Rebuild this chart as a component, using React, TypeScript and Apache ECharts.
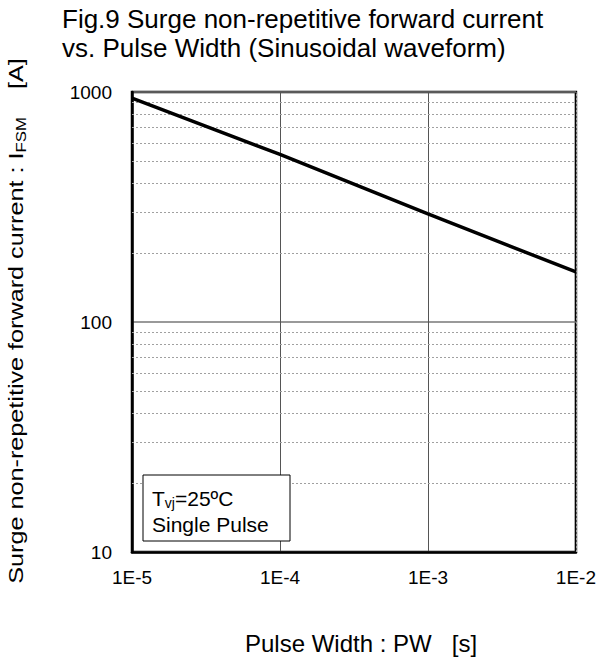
import React, { useEffect, useRef } from 'react';
import * as echarts from 'echarts';

const pulseWidth = [1e-5, 1e-4, 1e-3, 1e-2];
const surgeCurrent = [940, 535, 295, 165];
const xMinorGrid = [
  2e-5, 3e-5, 4e-5, 5e-5, 6e-5, 7e-5, 8e-5, 9e-5,
  2e-4, 3e-4, 4e-4, 5e-4, 6e-4, 7e-4, 8e-4, 9e-4,
  2e-3, 3e-3, 4e-3, 5e-3, 6e-3, 7e-3, 8e-3, 9e-3,
];
const yMinorGrid = [20, 30, 40, 50, 60, 70, 80, 90, 200, 300, 400, 500, 600, 700, 800, 900];
const titleLines = ['Fig.9 Surge non-repetitive forward current', 'vs. Pulse Width (Sinusoidal waveform)'];
const yAxisName = ['Surge non-repetitive forward current : I', 'FSM', '    [A]'];
const xAxisName = 'Pulse Width : PW   [s]';
const noteLines = ['T', 'vj', '=25ºC', 'Single Pulse'];

const FONT = '"Liberation Sans", Arial, Helvetica, sans-serif';

export default function App() {
  const ref = useRef<HTMLDivElement>(null);
  useEffect(() => {
    if (!ref.current) return;
    const chart = echarts.init(ref.current, undefined, { renderer: 'svg' });
    const minorLine = { color: '#a0a0a0', width: 1, type: [2, 2] as any };
    chart.setOption({
      animation: false,
      backgroundColor: '#ffffff',
      grid: {
        left: 132, right: 23, top: 92, bottom: 109,
        show: true, borderColor: '#000', borderWidth: 2.5, backgroundColor: 'transparent',
      },
      xAxis: {
        type: 'log', logBase: 10, min: 1e-5, max: 1e-2,
        axisLine: { show: true, lineStyle: { color: '#000', width: 2.5 } },
        axisTick: { show: false },
        splitLine: { show: true, lineStyle: { color: '#555', width: 1 } },
        axisLabel: {
          color: '#000', fontSize: 19, fontFamily: FONT, margin: 16,
          formatter: (v: number) => '1E' + Math.round(Math.log10(v)),
        },
      },
      yAxis: {
        type: 'log', logBase: 10, min: 10, max: 1000,
        axisLine: { show: true, lineStyle: { color: '#000', width: 2.5 } },
        axisTick: { show: false },
        splitLine: { show: true, lineStyle: { color: '#777', width: 1.5 } },
        axisLabel: {
          color: '#000', fontSize: 19, fontFamily: FONT, margin: 20,
          formatter: (v: number) => String(Math.round(v)),
        },
      },
      series: [
        {
          type: 'line',
          data: [],
          silent: true,
          markLine: {
            silent: true, symbol: 'none', label: { show: false },
            lineStyle: minorLine,
            data: [
              ...xMinorGrid.map((v) => ({ xAxis: v })),
              ...yMinorGrid.map((v) => ({ yAxis: v })),
            ],
          },
        },
        {
          type: 'line',
          data: pulseWidth.map((x, i) => [x, surgeCurrent[i]]),
          showSymbol: false,
          symbol: 'none',
          lineStyle: { color: '#000', width: 3.5 },
          z: 5,
        },
      ],
      graphic: [
        {
          type: 'text', left: 62, top: 4,
          style: {
            text: titleLines.join('\n'), font: `26px ${FONT}`, fill: '#000', lineHeight: 29,
          },
        },
        {
          type: 'text', x: 16, y: 321, rotation: Math.PI / 2, scaleX: 1.2,
          style: {
            text: `{a|${yAxisName[0]}}{s|${yAxisName[1]}}{a|${yAxisName[2]}}`,
            align: 'center', verticalAlign: 'middle',
            rich: {
              a: { fontSize: 21, fontFamily: FONT, fill: '#000', lineHeight: 25 },
              s: { fontSize: 14, fontFamily: FONT, fill: '#000', lineHeight: 14, verticalAlign: 'bottom' },
            },
          },
        },
        {
          type: 'text', x: 245, y: 643,
          style: { text: xAxisName, font: `24px ${FONT}`, fill: '#000', verticalAlign: 'middle' },
        },
        {
          type: 'rect', shape: { x: 143, y: 475, width: 147, height: 66 },
          style: { fill: '#fff', stroke: '#000', lineWidth: 1 }, z: 10,
        },
        {
          type: 'text', x: 152, y: 498, z: 11,
          style: {
            text: `{a|${noteLines[0]}}{s|${noteLines[1]}}{a|${noteLines[2]}}`,
            verticalAlign: 'middle',
            rich: {
              a: { fontSize: 21, fontFamily: FONT, fill: '#000', lineHeight: 24 },
              s: { fontSize: 14, fontFamily: FONT, fill: '#000', lineHeight: 14, verticalAlign: 'bottom' },
            },
          },
        },
        {
          type: 'text', x: 152, y: 524, z: 11,
          style: { text: noteLines[3], font: `21px ${FONT}`, fill: '#000', verticalAlign: 'middle' },
        },
      ],
    });
    return () => chart.dispose();
  }, []);
  return (
    <div
      ref={ref}
      style={{ position: 'absolute', left: 0, top: 0, width: 599, height: 661 }}
    />
  );
}
